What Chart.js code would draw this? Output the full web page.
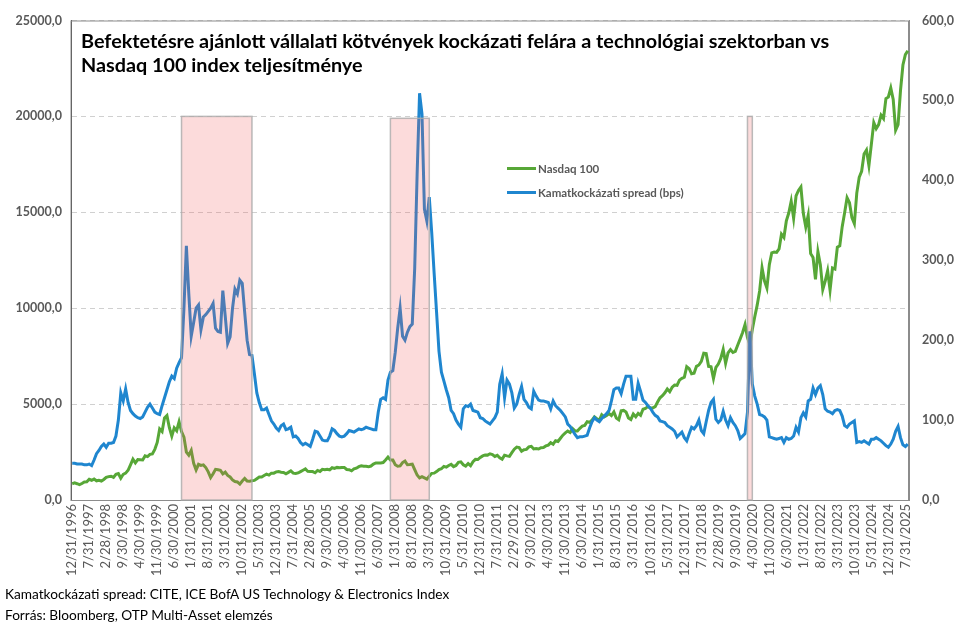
<!DOCTYPE html>
<html>
<head>
<meta charset="utf-8">
<script src="https://cdn.jsdelivr.net/npm/chart.js@4.4.1/dist/chart.umd.min.js"></script>
<style>
  html, body { margin: 0; padding: 0; background: #fff; }
  #wrap { position: relative; width: 969px; height: 625px; overflow: hidden; }
  #chart { position: absolute; left: 0; top: 0; }
  #title { position: absolute; left: 81px; top: 28px; font-family: Lato, sans-serif; font-weight: 700;
           font-size: 19px; line-height: 24px; color: #000; white-space: nowrap; }
  #legend { position: absolute; left: 507px; top: 156px; font-family: Lato, sans-serif; font-weight: 700;
            font-size: 11.5px; color: #595959; white-space: nowrap; }
  #legend .row { display: flex; align-items: center; height: 24px; }
  #legend .sw { display: inline-block; width: 29px; height: 3px; margin-right: 2px; }
  #footer { position: absolute; left: 5px; top: 584px; font-family: Lato, sans-serif; font-size: 12.5px;
            line-height: 21px; color: #000; white-space: nowrap; }
</style>
</head>
<body>
<div id="wrap">
  <canvas id="chart" width="969" height="625"></canvas>
  <div id="title"><div id="t1">Befektetésre ajánlott vállalati kötvények kockázati felára a technológiai szektorban vs</div><div>Nasdaq 100 index teljesítménye</div></div>
  <div id="legend"></div>
  <div id="footer"><div id="f1">Kamatkockázati spread: CITE, ICE BofA US Technology &amp; Electronics Index</div><div>Forrás: Bloomberg, OTP Multi-Asset elemzés</div></div>
</div>
<script>
// month-end categories, 12/31/1996 .. 8/31/2025
var labels = [];
for (var y = 1996, m = 12; y < 2025 || (y === 2025 && m <= 8);) {
  labels.push(m + '/' + new Date(y, m, 0).getDate() + '/' + y);
  m++;
  if (m > 12) { m = 1; y++; }
}

// Nasdaq 100 (left axis)
var nasdaq = [
  850,
  890, 850, 800, 860, 940, 950, 1080, 1030, 1090, 1000, 1030, 990,
  1070, 1180, 1220, 1240, 1180, 1340, 1380, 1140, 1340, 1400, 1550, 1836,
  2130, 1940, 2110, 2100, 2090, 2300, 2260, 2380, 2400, 2640, 3000, 3708,
  3570, 4270, 4397, 3770, 3330, 3760, 3610, 4080, 3570, 3280, 2500, 2340,
  2590, 1910, 1570, 1860, 1800, 1830, 1690, 1470, 1170, 1370, 1600, 1577,
  1550, 1360, 1450, 1280, 1200, 1050, 960, 940, 830, 990, 1120, 984,
  980, 1000, 1020, 1110, 1200, 1200, 1280, 1350, 1300, 1400, 1400, 1467,
  1480, 1450, 1440, 1370, 1440, 1520, 1400, 1380, 1410, 1480, 1550, 1621,
  1490, 1480, 1480, 1420, 1540, 1490, 1600, 1580, 1600, 1570, 1680, 1645,
  1700, 1680, 1700, 1700, 1590, 1580, 1520, 1620, 1660, 1740, 1780, 1756,
  1760, 1730, 1770, 1870, 1930, 1930, 1930, 1950, 2090, 2240, 2090, 2085,
  1840, 1760, 1780, 1950, 2030, 1840, 1850, 1870, 1580, 1300, 1150, 1212,
  1150, 1090, 1240, 1390, 1400, 1480, 1590, 1630, 1750, 1710, 1800, 1860,
  1740, 1800, 1960, 1990, 1840, 1770, 1900, 1790, 2000, 2120, 2110, 2217,
  2300, 2350, 2340, 2410, 2370, 2270, 2330, 2200, 2130, 2330, 2300, 2278,
  2470, 2650, 2760, 2730, 2540, 2620, 2640, 2770, 2800, 2660, 2680, 2660,
  2730, 2740, 2820, 2860, 2990, 2910, 3090, 3050, 3220, 3380, 3500, 3592,
  3520, 3720, 3600, 3600, 3740, 3850, 3890, 4080, 4050, 4160, 4330, 4236,
  4150, 4440, 4330, 4410, 4510, 4400, 4590, 4270, 4180, 4650, 4670, 4593,
  4280, 4200, 4480, 4340, 4520, 4420, 4730, 4770, 4880, 4800, 4800, 4864,
  5110, 5330, 5440, 5590, 5790, 5650, 5880, 5990, 5980, 6250, 6340, 6397,
  6950, 6850, 6580, 6610, 6970, 7040, 7230, 7650, 7630, 6970, 6950, 6330,
  6910, 7090, 7380, 7850, 7130, 7670, 7840, 7690, 7750, 8080, 8400, 8733,
  9150, 8460, 8100, 8890, 9550, 10160, 10900, 12110, 11420, 11050, 12270, 12888,
  12930, 12910, 13090, 13860, 13690, 14550, 14960, 15580, 14690, 15850, 16140, 16320,
  14930, 14240, 14840, 12850, 12640, 11500, 12950, 12270, 10970, 11410, 11950, 10940,
  12100, 12040, 13180, 13250, 14250, 14980, 15760, 15500, 14720, 14410, 16000, 16826,
  17140, 18040, 18250, 17440, 18540, 19680, 19360, 19570, 20060, 19890, 20930, 21012,
  21480, 20880, 19280, 19570, 21340, 22680, 23220, 23420
];

// Kamatkockázati spread, bps (right axis)
var spread = [
  46,
  46, 45, 45, 45, 44, 44, 45, 43, 50, 58, 62, 67,
  70, 66, 71, 71, 72, 80, 100, 134, 124, 139, 122, 112,
  108, 105, 103, 102, 104, 110, 116, 120, 115, 110, 108, 107,
  118, 128, 138, 148, 155, 152, 165, 172, 178, 240, 318, 258,
  205, 222, 240, 244, 213, 229, 232, 236, 240, 246, 215, 211,
  210, 262, 230, 196, 204, 240, 264, 258, 275, 271, 235, 200,
  182, 181, 158, 134, 122, 113, 113, 115, 107, 99, 95, 90,
  87, 93, 95, 88, 89, 91, 79, 80, 77, 72, 69, 71,
  69, 67, 76, 86, 85, 80, 75, 74, 74, 80, 89, 87,
  83, 80, 79, 80, 83, 87, 86, 85, 87, 89, 88, 89,
  91, 90, 89, 88, 88, 110, 126, 128, 126, 150, 160, 162,
  185, 215, 240, 205, 200, 210, 217, 220, 290, 408, 509, 483,
  364, 349, 379, 335, 284, 235, 186, 160, 149, 138, 128, 112,
  108, 100, 95, 91, 114, 118, 117, 120, 112, 111, 110, 103,
  102, 99, 97, 95, 99, 103, 110, 145, 158, 128, 150, 145,
  134, 115, 120, 132, 142, 126, 122, 116, 114, 136, 130, 125,
  124, 124, 123, 122, 114, 124, 118, 115, 112, 108, 104, 95,
  92, 87, 82, 78, 79, 79, 80, 81, 90, 98, 103, 100,
  98, 102, 105, 108, 112, 124, 138, 140, 140, 133, 145, 155,
  155, 155, 126, 126, 146, 136, 125, 122, 118, 115, 110, 106,
  104, 99, 98, 97, 93, 91, 89, 86, 79, 82, 85, 78,
  74, 83, 91, 89, 93, 100, 87, 83, 98, 112, 122, 126,
  101, 97, 100, 111, 100, 93, 103, 97, 93, 87, 77, 80,
  83, 110, 211, 145, 130, 120, 107, 106, 104, 100, 79, 78,
  77, 76, 77, 78, 72, 78, 76, 77, 80, 91, 85, 103,
  109, 104, 124, 126, 140, 132, 140, 143, 132, 114, 111, 110,
  108, 112, 113, 112, 105, 93, 91, 95, 97, 99, 72, 73,
  72, 74, 72, 70, 76, 76, 78, 76, 74, 71, 68, 66,
  70, 76, 86, 92, 78, 69, 67, 70
];

// shaded stress periods
var shadeStart = ['9/30/2000', '11/30/2007', '2/29/2020'];
var shadeEnd = ['2/28/2003', '3/31/2009', '4/30/2020'];
var shadeTop = [20000, 19900, 20000];

var seriesNames = ['Nasdaq 100', 'Kamatkockázati spread (bps)'];
var seriesColors = ['#57a737', '#1f86cf'];

function fmt(v) { return v.toFixed(1).replace('.', ','); }

// fit title / footer widths
var mctx = document.createElement('canvas').getContext('2d');
function fitSize(text, font, target) {
  mctx.font = font.replace('SIZE', '100px');
  return 100 * target / mctx.measureText(text).width;
}
document.getElementById('title').style.fontSize =
  fitSize(document.getElementById('t1').textContent, '700 SIZE Lato', 750) + 'px';
document.getElementById('footer').style.fontSize =
  fitSize(document.getElementById('f1').textContent, '400 SIZE Lato', 446) + 'px';

// html legend
var legendEl = document.getElementById('legend');
seriesNames.forEach(function (name, i) {
  var row = document.createElement('div');
  row.className = 'row';
  row.innerHTML = '<span class="sw" style="background:' + seriesColors[i] + '"></span>' + name;
  legendEl.appendChild(row);
});

var frame = {
  id: 'frame',
  beforeDatasetsDraw: function (chart) {
    var a = chart.chartArea, ctx = chart.ctx;
    ctx.save();
    ctx.strokeStyle = '#8c8c8c';
    ctx.lineWidth = 1;
    ctx.strokeRect(a.left, a.top + 0.5, a.right - a.left - 0.5, a.bottom - a.top);
    ctx.restore();
  },
  afterDatasetsDraw: function (chart) {
    var x = chart.scales.x, yl = chart.scales.yL, ctx = chart.ctx;
    ctx.save();
    for (var i = 0; i < shadeStart.length; i++) {
      var x1 = x.getPixelForValue(labels.indexOf(shadeStart[i]));
      var x2 = x.getPixelForValue(labels.indexOf(shadeEnd[i]));
      var yt = yl.getPixelForValue(shadeTop[i]);
      var yb = yl.getPixelForValue(0);
      ctx.fillStyle = 'rgba(240, 90, 90, 0.22)';
      ctx.fillRect(x1, yt, x2 - x1, yb - yt);
      ctx.strokeStyle = 'rgba(170, 170, 170, 0.8)';
      ctx.lineWidth = 1.5;
      ctx.strokeRect(x1, yt, x2 - x1, yb - yt);
    }
    ctx.restore();
  }
};

new Chart(document.getElementById('chart').getContext('2d'), {
  type: 'line',
  data: {
    labels: labels,
    datasets: [{
      label: seriesNames[0],
      data: nasdaq,
      yAxisID: 'yL',
      borderColor: seriesColors[0],
      borderWidth: 3,
      pointRadius: 0,
      order: 1
    }, {
      label: seriesNames[1],
      data: spread,
      yAxisID: 'yR',
      borderColor: seriesColors[1],
      borderWidth: 3,
      pointRadius: 0,
      order: 0
    }]
  },
  options: {
    responsive: false,
    animation: false,
    devicePixelRatio: 1,
    layout: { padding: { top: 16, left: 0, right: 0, bottom: 0 } },
    plugins: { legend: { display: false }, tooltip: { enabled: false } },
    scales: {
      x: {
        type: 'category',
        offset: true,
        grid: { display: false, drawTicks: false },
        border: { display: true, color: '#8c8c8c' },
        ticks: {
          autoSkip: false, maxRotation: 90, minRotation: 90, padding: 4,
          color: '#595959', font: { family: 'Lato', size: 13 },
          callback: function (v, i) { return i % 7 === 0 ? labels[i] : null; }
        },
        afterFit: function (s) { s.height = 125; }
      },
      yL: {
        position: 'left', min: 0, max: 25000,
        grid: { color: '#d0d0d0', drawTicks: false },
        border: { display: true, color: '#404040', dash: [5, 4] },
        ticks: {
          stepSize: 5000, padding: 9, color: '#595959',
          font: { family: 'Lato', size: 12.5, weight: 'bold' },
          callback: function (v) { return fmt(v); }
        },
        afterFit: function (s) { s.width = 71; }
      },
      yR: {
        position: 'right', min: 0, max: 600,
        grid: { display: false, drawTicks: false },
        border: { display: true, color: '#8c8c8c' },
        ticks: {
          stepSize: 100, padding: 13, color: '#595959',
          font: { family: 'Lato', size: 12.5, weight: 'bold' },
          callback: function (v) { return fmt(v); }
        },
        afterFit: function (s) { s.width = 60; }
      }
    }
  },
  plugins: [frame]
});
</script>
</body>
</html>
